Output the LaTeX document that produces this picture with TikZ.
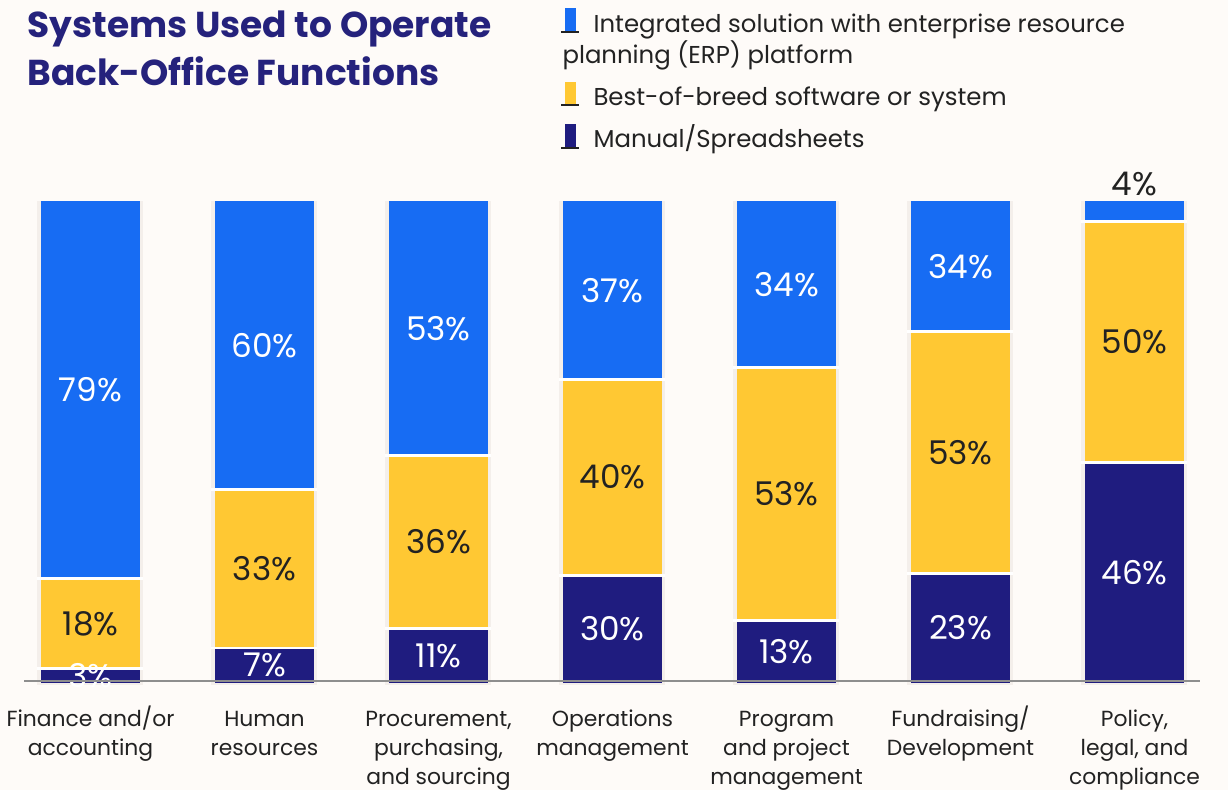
\documentclass[tikz,border=0pt]{standalone}
\usepackage{fontspec}
\setmainfont{Poppins}
\definecolor{pagebg}{HTML}{FEFBF8}
\definecolor{erpblue}{HTML}{176CF3}
\definecolor{bestyellow}{HTML}{FFC833}
\definecolor{manualnavy}{HTML}{1F1C7F}
\definecolor{titlenavy}{HTML}{25227C}
\definecolor{inkgray}{HTML}{222222}
\definecolor{trackgray}{HTML}{F4EFEB}
\definecolor{axisgray}{HTML}{8E8E8E}

\tikzset{every picture/.style={line width=0.75pt}}
\tikzset{
  track/.style={fill=trackgray, draw opacity=0},
  erpbar/.style={fill=erpblue, draw opacity=0},
  bestbar/.style={fill=bestyellow, draw opacity=0},
  manualbar/.style={fill=manualnavy, draw opacity=0},
  gapline/.style={draw=white, line width=2pt},
  swatchbase/.style={draw=inkgray, line width=1.5pt},
  pctlight/.style={text=white, inner sep=0pt, font=\fontsize{24.5}{28}\selectfont},
  pctdark/.style={text=inkgray, inner sep=0pt, font=\fontsize{24.5}{28}\selectfont},
  catlabel/.style={anchor=base, text=inkgray, align=center, inner sep=0pt, font=\fontsize{16.4}{21.75}\selectfont},
  legendtext/.style={anchor=base west, text=inkgray, inner sep=0pt, font=\fontsize{18.3}{23.25}\selectfont},
  titletext/.style={anchor=base west, text=titlenavy, inner sep=0pt, font=\fontsize{27}{36}\selectfont\bfseries},
}

\begin{document}
\begin{tikzpicture}[x=0.75pt,y=0.75pt,yscale=-1,xscale=1]
%set diagram left start at 0, and has height of 790
\fill [pagebg] (0,0) rectangle (1228,790);
\useasboundingbox (0,0) rectangle (1228,790);

% Title
\node (titleA) at (27,37) [titletext] {Systems Used to Operate};
\node (titleB) at (27,85) [titletext] {Back-Office Functions};

%Shape: Legend swatches
\draw [erpbar] (565,8) rectangle (576,31);
\draw [swatchbase] (561,31.5) -- (579,31.5);
\draw [bestbar] (565,82) rectangle (576,104);
\draw [swatchbase] (561,104.5) -- (579,104.5);
\draw [manualbar] (565,124) rectangle (576,147);
\draw [swatchbase] (561,147.5) -- (579,147.5);

% Legend Text
\node (legErpA) at (593,32) [legendtext] {Integrated solution with enterprise resource};
\node (legErpB) at (562,63) [legendtext] {planning (ERP) platform};
\node (legBest) at (593,105) [legendtext] {Best-of-breed software or system};
\node (legManual) at (593,147) [legendtext] {Manual/Spreadsheets};

%Shape: Bar tracks
\draw [track] (37,201) rectangle (143,685);
\draw [track] (211,201) rectangle (317,685);
\draw [track] (385,201) rectangle (491,685);
\draw [track] (559,201) rectangle (665,685);
\draw [track] (733,201) rectangle (839,685);
\draw [track] (907,201) rectangle (1013,685);
\draw [track] (1081,201) rectangle (1187,685);

%Shape: Finance and/or accounting
\draw [erpbar] (41,201) rectangle (140,578.7);
\draw [bestbar] (41,578.7) rectangle (140,668.7);
\draw [manualbar] (41,668.7) rectangle (140,683);
\draw [gapline] (37,578.7) -- (143,578.7);
\draw [gapline] (37,668.7) -- (143,668.7);
%Shape: Human resources
\draw [erpbar] (215,201) rectangle (314,489.3);
\draw [bestbar] (215,489.3) rectangle (314,648);
\draw [manualbar] (215,648) rectangle (314,683);
\draw [gapline] (211,489.3) -- (317,489.3);
\draw [gapline] (211,648) -- (317,648);
%Shape: Procurement
\draw [erpbar] (389,201) rectangle (488,455.3);
\draw [bestbar] (389,455.3) rectangle (488,628.3);
\draw [manualbar] (389,628.3) rectangle (488,683);
\draw [gapline] (385,455.3) -- (491,455.3);
\draw [gapline] (385,628.3) -- (491,628.3);
%Shape: Operations management
\draw [erpbar] (563,201) rectangle (662,379.3);
\draw [bestbar] (563,379.3) rectangle (662,575.3);
\draw [manualbar] (563,575.3) rectangle (662,683);
\draw [gapline] (559,379.3) -- (665,379.3);
\draw [gapline] (559,575.3) -- (665,575.3);
%Shape: Program and project management
\draw [erpbar] (737,201) rectangle (836,367.3);
\draw [bestbar] (737,367.3) rectangle (836,620.7);
\draw [manualbar] (737,620.7) rectangle (836,683);
\draw [gapline] (733,367.3) -- (839,367.3);
\draw [gapline] (733,620.7) -- (839,620.7);
%Shape: Fundraising
\draw [erpbar] (911,201) rectangle (1010,331.7);
\draw [bestbar] (911,331.7) rectangle (1010,573.3);
\draw [manualbar] (911,573.3) rectangle (1010,683);
\draw [gapline] (907,331.7) -- (1013,331.7);
\draw [gapline] (907,573.3) -- (1013,573.3);
%Shape: Policy, legal, and compliance
\draw [erpbar] (1085,201) rectangle (1184,221.7);
\draw [bestbar] (1085,221.7) rectangle (1184,462.3);
\draw [manualbar] (1085,462.3) rectangle (1184,683);
\draw [gapline] (1081,221.7) -- (1187,221.7);
\draw [gapline] (1081,462.3) -- (1187,462.3);

% Text Node: percentages
\node (pctFinErp) at (90.5,390) [pctlight] {79\%};
\node (pctFinBest) at (90.5,624) [pctdark] {18\%};
\node (pctFinManual) at (90.5,676) [pctlight] {3\%};
\node (pctHrErp) at (264.5,346) [pctlight] {60\%};
\node (pctHrBest) at (264.5,569) [pctdark] {33\%};
\node (pctHrManual) at (264.5,665) [pctlight] {7\%};
\node (pctProErp) at (438.5,329) [pctlight] {53\%};
\node (pctProBest) at (438.5,542) [pctdark] {36\%};
\node (pctProManual) at (438.5,656) [pctlight] {11\%};
\node (pctOpsErp) at (612.5,291) [pctlight] {37\%};
\node (pctOpsBest) at (612.5,477) [pctdark] {40\%};
\node (pctOpsManual) at (612.5,629) [pctlight] {30\%};
\node (pctPrgErp) at (786.5,285) [pctlight] {34\%};
\node (pctPrgBest) at (786.5,494) [pctdark] {53\%};
\node (pctPrgManual) at (786.5,652) [pctlight] {13\%};
\node (pctFunErp) at (960.5,267) [pctlight] {34\%};
\node (pctFunBest) at (960.5,453) [pctdark] {53\%};
\node (pctFunManual) at (960.5,628) [pctlight] {23\%};
\node (pctPolErp) at (1134.5,184) [pctdark] {4\%};
\node (pctPolBest) at (1134.5,342) [pctdark] {50\%};
\node (pctPolManual) at (1134.5,573) [pctlight] {46\%};

%Straight Lines: axis
\draw [axisgray, line width=1.5pt] (24,681) -- (1200,681);

% Text Node: categories (base is the last line)
\node (catFin) at (90.5,755.5) [catlabel] {Finance and/or\\accounting};
\node (catHr) at (264.5,755.5) [catlabel] {Human\\resources};
\node (catPro) at (438.5,784.5) [catlabel] {Procurement,\\purchasing,\\and sourcing};
\node (catOps) at (612.5,755.5) [catlabel] {Operations\\management};
\node (catPrg) at (786.5,784.5) [catlabel] {Program\\and project\\management};
\node (catFun) at (960.5,755.5) [catlabel] {Fundraising/\\Development};
\node (catPol) at (1134.5,784.5) [catlabel] {Policy,\\legal, and\\compliance};

\end{tikzpicture}
\end{document}
